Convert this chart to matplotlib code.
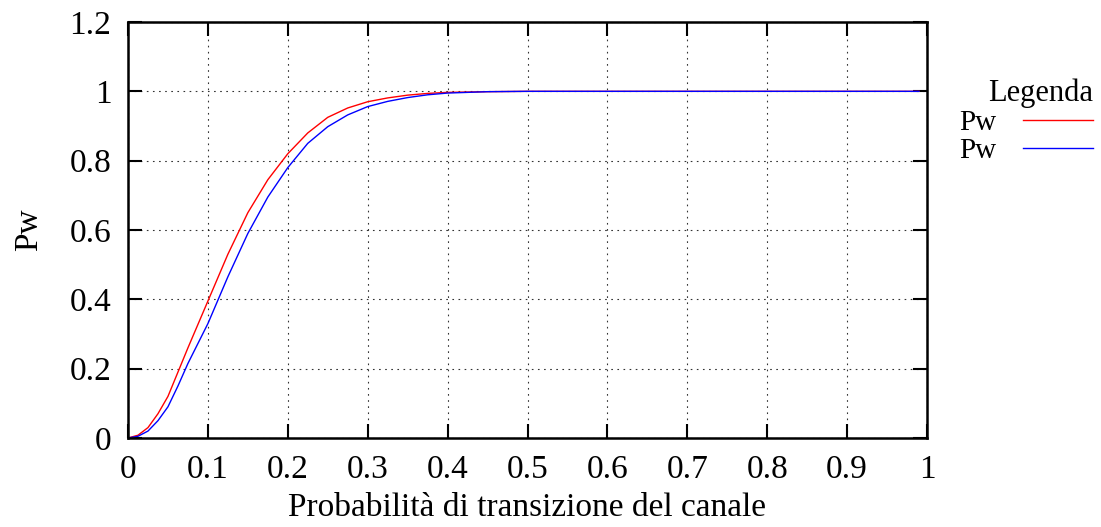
import matplotlib
matplotlib.use("Agg")
import matplotlib.pyplot as plt

plt.rcParams['font.family'] = ['Liberation Serif', 'DejaVu Serif']

# probability of channel transition (x) and Pw for the two series
p = [0, 0.0125, 0.025, 0.0375, 0.05, 0.0625, 0.075, 0.1, 0.125, 0.15, 0.175,
     0.2, 0.225, 0.25, 0.275, 0.3, 0.325, 0.35, 0.375, 0.4, 0.425, 0.45,
     0.5, 0.6, 0.7, 0.8, 0.9, 0.99]
pw_red = [0, 0.008, 0.03, 0.07, 0.12, 0.19, 0.26, 0.395, 0.53, 0.65, 0.745,
          0.82, 0.88, 0.925, 0.952, 0.970, 0.981, 0.989, 0.994, 0.997, 0.998,
          0.999, 1, 1, 1, 1, 1, 1]
pw_blue = [0, 0.005, 0.02, 0.05, 0.09, 0.15, 0.215, 0.33, 0.465, 0.59, 0.695,
           0.78, 0.85, 0.898, 0.932, 0.956, 0.971, 0.982, 0.99, 0.995, 0.997,
           0.999, 1, 1, 1, 1, 1, 1]

xticks = [0, 0.1, 0.2, 0.3, 0.4, 0.5, 0.6, 0.7, 0.8, 0.9, 1]
xlabels = ['0', '0.1', '0.2', '0.3', '0.4', '0.5', '0.6', '0.7', '0.8', '0.9', '1']
yticks = [0, 0.2, 0.4, 0.6, 0.8, 1.0, 1.2]
ylabels = ['0', '0.2', '0.4', '0.6', '0.8', '1', '1.2']

fig = plt.figure(figsize=(11.01, 5.27), dpi=100)
ax = fig.add_axes([128 / 1101, 89 / 527, 799 / 1101, 416 / 527])

ax.plot(p, pw_red, color='#ff0000', lw=1.0, label='Pw')
ax.plot(p, pw_blue, color='#0000ff', lw=1.0, label='Pw')

ax.set_xlim(0, 1)
ax.set_ylim(0, 1.2)
ax.set_xticks(xticks)
ax.set_xticklabels(xlabels)
ax.set_yticks(yticks)
ax.set_yticklabels(ylabels)
ax.tick_params(direction='in', length=10, width=1.5, labelsize=24,
               top=True, right=True)
ax.tick_params(axis='x', pad=12)
ax.tick_params(axis='y', pad=12)
ax.grid(True, color='black', linestyle=(0, (1.5, 4)), lw=0.8, alpha=0.8)
for s in ax.spines.values():
    s.set_linewidth(1.8)

ax.set_xlabel('Probabilità di transizione del canale', fontsize=24, labelpad=5)
ax.set_ylabel('Pw', fontsize=24, labelpad=18)

leg = fig.legend(loc='upper right', bbox_to_anchor=(1093 / 1101, 1 - 79 / 527),
                 frameon=False, markerfirst=False, fontsize=21,
                 title='Legenda', title_fontsize=22, handlelength=2.4,
                 handletextpad=0.9, labelspacing=0.05, borderpad=0,
                 borderaxespad=0)
leg._legend_box.align = 'right'
leg._legend_box.sep = 1

fig.savefig('out.png', dpi=100)
